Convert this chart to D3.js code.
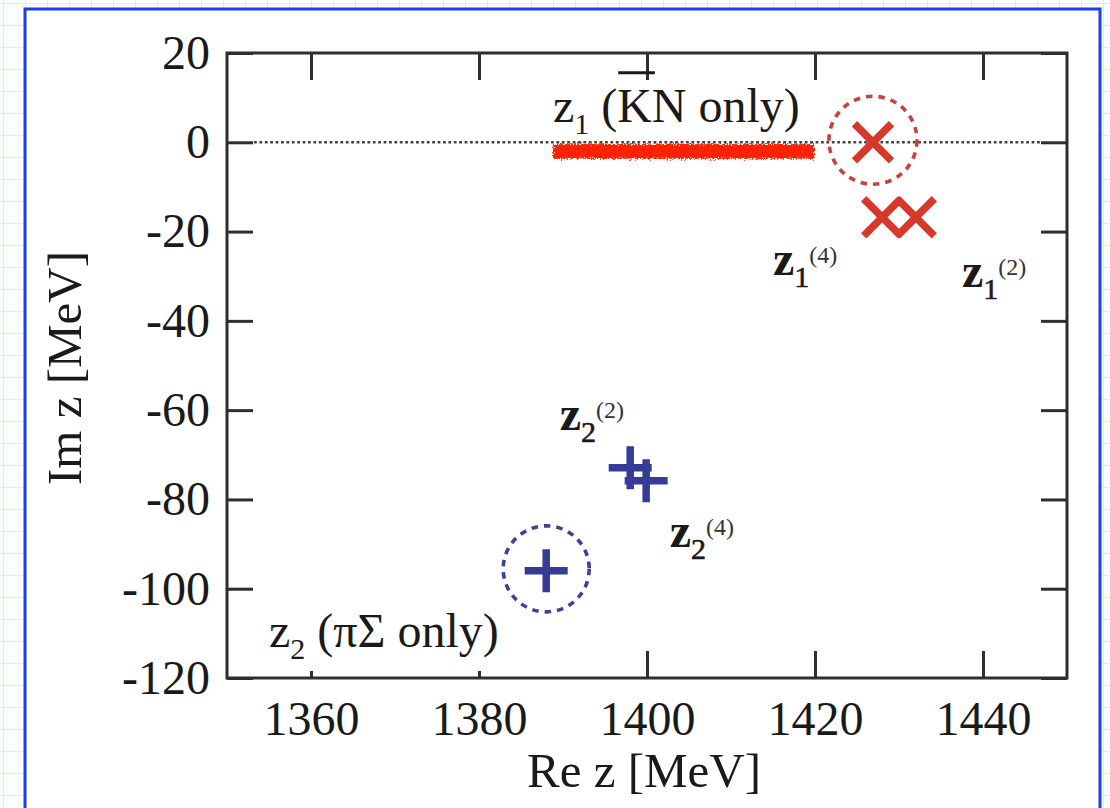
<!DOCTYPE html>
<html>
<head>
<meta charset="utf-8">
<script src="https://cdn.jsdelivr.net/npm/d3@7"></script>
<style>
  html, body { margin: 0; padding: 0; background: #fff; }
  svg { display: block; }
  text { font-family: "Liberation Serif", "Times New Roman", serif; fill: #1a1a1a; }
</style>
</head>
<body>
<svg id="chart" width="1110" height="808"></svg>
<script>
// ---------------- data ----------------
const xDomain = [1350, 1450];
const yDomain = [-120, 20];
const xTicks = [1360, 1380, 1400, 1420, 1440];
const yTicks = [20, 0, -20, -40, -60, -80, -100, -120];
const xTitle = "Re z [MeV]";
const yTitle = "Im z [MeV]";

// z1 poles (red crosses): KN-only, (4), (2)
const z1Re = [1426.9, 1428.0, 1432.0];
const z1Im = [0, -16.8, -16.8];
// z2 poles (blue pluses): piSigma-only, (2), (4)
const z2Re = [1388.0, 1398.0, 1399.9];
const z2Im = [-96.0, -72.9, -75.8];

// annotation labels: text pieces, anchor in data units
const labelNames = ["z1only", "z1_4", "z1_2", "z2_2", "z2_4", "z2only"];
const labelRe = [1388.8, 1415.0, 1437.5, 1389.6, 1402.7, 1355.0];
const labelIm = [4.6, -29.7, -32.4, -64.4, -90.6, -113.0];
const labelSub = ["1", "1", "1", "2", "2", "2"];
const labelSup = ["", "(4)", "(2)", "(2)", "(4)", ""];
const labelTail = [" (KN only)", "", "", "", "", " (\u03C0\u03A3 only)"];

// red scribble band over the real axis
const bandRe = [1388.8, 1419.9];
const bandIm = [-0.4, -3.7];

// ---------------- layout ----------------
const svg = d3.select("#chart");
const W = 1110, H = 808;
const m = { left: 227, top: 53, right: 1067, bottom: 678 };
const x = d3.scaleLinear().domain(xDomain).range([m.left, m.right]);
const y = d3.scaleLinear().domain(yDomain).range([m.bottom, m.top]);

const RED = "#d8382c", BLUE = "#363b98", AX = "#2e2e2e";

// defs
const defs = svg.append("defs");
const pat = defs.append("pattern").attr("id", "grid").attr("patternUnits", "userSpaceOnUse")
  .attr("width", 22).attr("height", 22).attr("x", 3).attr("y", 3);
pat.append("path").attr("d", "M22 0 L0 0 0 22").attr("fill", "none")
  .attr("stroke", "#cdf0cd").attr("stroke-width", 1.5);
const f = defs.append("filter").attr("id", "rough")
  .attr("x", "-5%").attr("y", "-80%").attr("width", "110%").attr("height", "260%");
f.append("feTurbulence").attr("type", "fractalNoise").attr("baseFrequency", 0.7)
  .attr("numOctaves", 2).attr("seed", 4).attr("result", "n");
f.append("feDisplacementMap").attr("in", "SourceGraphic").attr("in2", "n")
  .attr("scale", 7).attr("xChannelSelector", "R").attr("yChannelSelector", "G");

// background: graph paper + framed white panel
svg.append("rect").attr("width", W).attr("height", H).attr("fill", "#fbfffb");
svg.append("rect").attr("width", W).attr("height", H).attr("fill", "url(#grid)");
svg.append("rect").attr("x", 25).attr("y", 9).attr("width", 1075).attr("height", 820)
  .attr("fill", "#fff").attr("stroke", "#1b3df5").attr("stroke-width", 3);

// zero line (dotted)
svg.append("line").attr("x1", x(xDomain[0]) + 27).attr("x2", x(xDomain[1]) - 27)
  .attr("y1", y(0)).attr("y2", y(0))
  .attr("stroke", "#444").attr("stroke-width", 2.6).attr("stroke-dasharray", "2.8,2.6");

// red scribble band
svg.append("rect")
  .attr("x", x(bandRe[0])).attr("y", y(bandIm[0]))
  .attr("width", x(bandRe[1]) - x(bandRe[0])).attr("height", y(bandIm[1]) - y(bandIm[0]))
  .attr("fill", "#ff2400").attr("filter", "url(#rough)");

// axes
function styleAxis(g) {
  g.select(".domain").remove();
  g.selectAll(".tick line").attr("stroke", AX).attr("stroke-width", 3);
  g.selectAll(".tick text").attr("font-size", 48).attr("fill", "#1a1a1a")
    .attr("font-family", "Liberation Serif, serif");
}
svg.append("g").attr("transform", `translate(0,${m.bottom})`)
  .call(d3.axisBottom(x).tickValues(xTicks).tickSize(-27).tickPadding(23).tickFormat(d => String(d)))
  .call(styleAxis);
svg.append("g").attr("transform", `translate(0,${m.top})`)
  .call(d3.axisTop(x).tickValues(xTicks).tickSize(-27).tickFormat(""))
  .call(styleAxis);
svg.append("g").attr("transform", `translate(${m.left},0)`)
  .call(d3.axisLeft(y).tickValues(yTicks).tickSize(-26).tickPadding(17).tickFormat(d => String(d)))
  .call(styleAxis);
svg.append("g").attr("transform", `translate(${m.right},0)`)
  .call(d3.axisRight(y).tickValues(yTicks).tickSize(-26).tickFormat(""))
  .call(styleAxis);

// labels
const labelG = svg.append("g");
labelNames.forEach((name, i) => {
  const only = labelTail[i] !== "";
  const t = labelG.append("text").attr("x", x(labelRe[i])).attr("y", y(labelIm[i]))
    .attr("font-size", 48);
  t.append("tspan").text("z").attr("font-weight", only ? "normal" : "bold");
  t.append("tspan").text(labelSub[i]).attr("font-size", 30).attr("dy", 12)
    .attr("stroke", only ? "none" : "#1a1a1a").attr("stroke-width", 0.6);
  if (labelSup[i]) {
    t.append("tspan").text(labelSup[i]).attr("font-size", 24).attr("dy", -24)
      .attr("fill", "#333");
  }
  if (only) {
    t.append("tspan").text(labelTail[i]).attr("dy", -12);
  }
  if (name === "z2only") {
    // white label box that hides part of the bottom ticks
    const bb = t.node().getBBox();
    labelG.insert("rect", "text").attr("x", bb.x - 4).attr("y", bb.y)
      .attr("width", bb.width + 8).attr("height", m.bottom - 7 - bb.y).attr("fill", "#fff");
  }
  if (name === "z1only") {
    // overbar on K
    const ext = t.node().getExtentOfChar(4);
    labelG.append("line").attr("x1", ext.x + 1).attr("x2", ext.x + ext.width + 3)
      .attr("y1", y(labelIm[i]) - 49).attr("y2", y(labelIm[i]) - 49)
      .attr("stroke", "#1a1a1a").attr("stroke-width", 3);
  }
});

// dashed circles around the single-channel poles
svg.append("circle").attr("cx", x(z1Re[0])).attr("cy", y(z1Im[0]) - 2).attr("r", 44)
  .attr("fill", "none").attr("stroke", "#c4443d").attr("stroke-width", 3.6)
  .attr("stroke-dasharray", "6.5,6");
svg.append("circle").attr("cx", x(z2Re[0])).attr("cy", y(z2Im[0]) - 2).attr("r", 43)
  .attr("fill", "none").attr("stroke", "#3d4299").attr("stroke-width", 3.6)
  .attr("stroke-dasharray", "6.5,6");

// pole markers
const xSym = d3.symbol().type(d3.symbolX).size(897);
const pSym = d3.symbol().type(d3.symbolPlus).size(605);
svg.append("g").selectAll("path").data(z1Re).join("path")
  .attr("transform", (d, i) => `translate(${x(d)},${y(z1Im[i])})`)
  .attr("d", xSym).attr("fill", "none").attr("stroke", RED).attr("stroke-width", 7.5);
svg.append("g").selectAll("path").data(z2Re).join("path")
  .attr("transform", (d, i) => `translate(${x(d)},${y(z2Im[i])})`)
  .attr("d", pSym).attr("fill", "none").attr("stroke", BLUE).attr("stroke-width", 7.5);

// frame
svg.append("rect").attr("x", m.left).attr("y", m.top)
  .attr("width", m.right - m.left).attr("height", m.bottom - m.top)
  .attr("fill", "none").attr("stroke", AX).attr("stroke-width", 3);

// axis titles
svg.append("text").attr("x", 644).attr("y", 787).attr("text-anchor", "middle")
  .attr("font-size", 49).text(xTitle);
svg.append("text").attr("transform", "translate(81,368) rotate(-90)")
  .attr("text-anchor", "middle").attr("font-size", 49).text(yTitle);
</script>
</body>
</html>
